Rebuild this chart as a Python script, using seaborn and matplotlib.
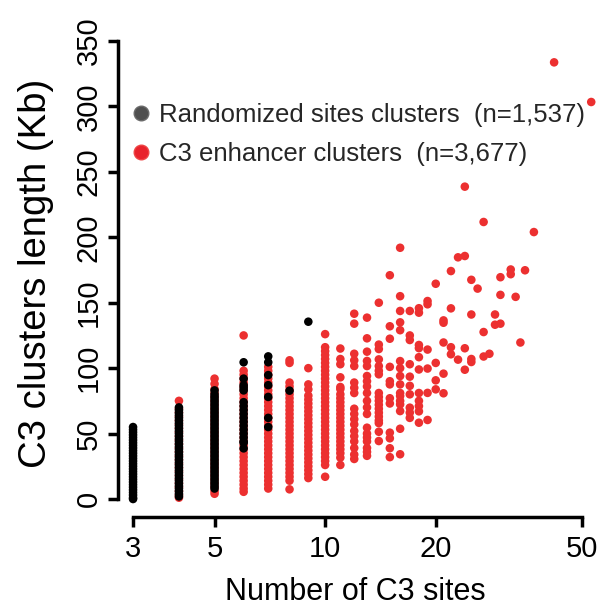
import matplotlib
matplotlib.use("Agg")
import matplotlib.pyplot as plt
import seaborn as sns
import pandas as pd
from matplotlib.lines import Line2D
from matplotlib.ticker import NullLocator

# ---------------- data ----------------
# Randomized sites clusters: number of sites -> cluster lengths (Kb)
rand_3 = [0, 1, 3, 5, 7, 9, 11, 13, 15, 17, 19, 21, 23, 25, 27, 29, 31, 33, 35, 37,
          39, 41, 43, 45, 47, 49, 51, 53, 55]
rand_4 = [2, 4, 6, 8, 10, 12, 14, 16, 18, 20, 22, 24, 26, 28, 30, 32, 34, 36, 38, 40,
          42, 44, 46, 48, 50, 52, 54, 56, 58, 60, 62, 64, 66, 68, 70]
rand_5 = [8, 10, 12, 14, 16, 18, 20, 22, 24, 26, 28, 30, 32, 34, 36, 38, 40, 42, 44, 46,
          48, 50, 52, 54, 56, 58, 60, 62, 64, 66, 68, 70, 72, 74, 76, 78, 80, 83]
rand_6 = [38.7, 43, 44, 47, 50, 53, 56, 59, 62, 65, 68, 71, 74, 83, 85, 87, 92, 104.5]
rand_7 = [55, 62, 78, 87, 94.7, 104.5, 109]
rand_8 = [82.8]
rand_9 = [135.5]

# C3 enhancer clusters: number of sites -> cluster lengths (Kb)
enh_4 = [1, 3, 6, 9, 12, 15, 18, 21, 24, 27, 30, 33, 36, 39, 42, 45, 48, 51, 54, 57,
         60, 63, 66, 69, 75]
enh_5 = [4, 6, 9, 12, 15, 18, 21, 24, 27, 30, 33, 36, 39, 42, 45, 48, 51, 54, 57, 60,
         63, 66, 69, 72, 75, 78, 81, 84, 88, 92]
enh_6 = [5.5, 8, 11, 14, 17, 20, 23, 26, 29, 32, 35, 38, 41, 44, 47, 50, 53, 56, 59,
         62, 65, 68, 71, 74, 77, 80, 83, 86, 89, 92, 95, 98, 125]
enh_7 = [8, 11, 14, 17, 20, 23, 26, 29, 32, 35, 38, 41, 44, 47, 50, 53, 56, 59, 62, 65,
         68, 71, 74, 77, 80, 83, 86, 89, 92, 95, 98, 101]
enh_8 = [7.4, 14, 17, 20, 23, 26, 29, 32, 35, 38, 41, 44, 47, 50, 53, 56, 59, 62, 65,
         68, 71, 74, 77, 80, 83, 86, 89, 104, 106]
enh_9 = [16, 19, 22, 25, 28, 31, 34, 37, 40, 43, 46, 49, 52, 55, 58, 61, 64, 67, 70,
         73, 76, 79, 83.8, 87.6, 100]
enh_10 = [17, 26, 29, 32, 35, 38, 41, 44, 47, 50, 53, 56, 59, 62, 65, 68, 71, 74, 77,
          80, 83, 86, 89, 92, 95, 98, 101, 104, 107, 110, 113, 116, 126]
enh_11 = [26, 31.6, 35, 38, 41, 44, 47, 50, 53, 56, 59, 62, 65, 68, 71, 74, 77, 80, 84,
          85.6, 93, 103, 107, 115]
enh_12 = [30.6, 34, 39, 44, 48, 52, 57, 61, 65, 69, 81, 85, 89, 101.6, 106, 111, 134, 141.6]
enh_13 = [33, 36, 39, 44, 47, 50, 54.5, 65, 70, 75, 81, 86, 90, 94, 101.6, 105.5, 112.6,
          122.8, 138.6]
enh_14 = [44.3, 51.4, 58, 60, 63, 66, 69, 72, 75, 78, 81, 95.3, 98, 101.6, 106.7, 114.6,
          118, 150]
enh_15 = [32, 38.8, 46.4, 50.7, 73, 77, 87.6, 90, 101, 122.5, 132, 171]
enh_16 = [34.2, 53.7, 67.2, 72.3, 75, 78.7, 81, 87.6, 94, 100, 105.4, 129, 135, 143.7,
          155, 192]
enh_17 = [62, 66, 69.8, 80, 86.5, 93.5, 103, 121.5, 125, 143.7]
enh_18 = [58.3, 67, 71, 75, 81, 99, 108.4, 115.3, 117.7, 142.4, 145.8]
enh_19 = [60.4, 81.1, 99.7, 114.2, 148.8, 151.3]
enh_20 = [83.8, 90.7, 104, 164.5]
enh_21 = [80.8, 95.8, 119.6, 134.7, 136.5]
enh_22 = [110.6, 116, 145.7, 174.2]
enh_23 = [106.5, 184.7]
enh_24 = [98.8, 115.2, 185.7, 238.7]
enh_25 = [104.7, 107, 141, 167.5]
enh_26 = [160.8]
enh_27 = [108.9, 127.6, 211.7]
enh_28 = [111]
enh_29 = [133.2, 141]
enh_30 = [134, 156, 169.5]
enh_32 = [171.8, 175.4]
enh_33 = [154.5]
enh_34 = [119.6]
enh_35 = [174.8]
enh_37 = [204]
enh_42 = [333.7]
enh_53 = [303.4]

rand_columns = [(3, rand_3), (4, rand_4), (5, rand_5), (6, rand_6), (7, rand_7),
                (8, rand_8), (9, rand_9)]
enh_columns = [(4, enh_4), (5, enh_5), (6, enh_6), (7, enh_7), (8, enh_8), (9, enh_9),
               (10, enh_10), (11, enh_11), (12, enh_12), (13, enh_13), (14, enh_14),
               (15, enh_15), (16, enh_16), (17, enh_17), (18, enh_18), (19, enh_19),
               (20, enh_20), (21, enh_21), (22, enh_22), (23, enh_23), (24, enh_24),
               (25, enh_25), (26, enh_26), (27, enh_27), (28, enh_28), (29, enh_29),
               (30, enh_30), (32, enh_32), (33, enh_33), (34, enh_34), (35, enh_35),
               (37, enh_37), (42, enh_42), (53, enh_53)]

label_rand = "Randomized sites clusters  (n=1,537)"
label_enh = "C3 enhancer clusters  (n=3,677)"
x_ticks = [3, 5, 10, 20, 50]
y_ticks = [0, 50, 100, 150, 200, 250, 300, 350]

# ---------------- build table ----------------
rows = []
for site, vals in enh_columns:
    rows += [(site, v, "enh") for v in vals]
for site, vals in rand_columns:
    rows += [(site, v, "rand") for v in vals]
df = pd.DataFrame(rows, columns=["sites", "length", "group"])

RED = "#EC3030"
BLACK = "#000000"
TICK_FS = 21

sns.set_theme(style="white")
plt.rcParams["font.family"] = ["Liberation Sans", "DejaVu Sans"]
plt.rcParams["xtick.labelsize"] = TICK_FS
plt.rcParams["ytick.labelsize"] = TICK_FS

fig = plt.figure(figsize=(6.01, 6.07), dpi=100)
ax = fig.add_axes([118 / 601, 90 / 607, 480 / 601, 482 / 607])

sns.scatterplot(data=df, x="sites", y="length", hue="group",
                palette={"enh": RED, "rand": BLACK}, s=38, linewidth=0,
                legend=False, ax=ax, clip_on=False)

ax.set_xscale("log")
ax.set_xlim(2.73, 55.3)
ax.set_ylim(-13.75, 354.6)

for side in ["top", "right"]:
    ax.spines[side].set_visible(False)
for side in ["left", "bottom"]:
    ax.spines[side].set_color("black")
    ax.spines[side].set_linewidth(2.5)
ax.spines["left"].set_bounds(0, 350)
ax.spines["bottom"].set_bounds(3, 50)

ax.set_xticks(x_ticks)
ax.set_xticklabels([str(t) for t in x_ticks], fontsize=TICK_FS)
ax.xaxis.set_minor_locator(NullLocator())
ax.set_yticks(y_ticks)
ax.set_yticklabels([str(t) for t in y_ticks], fontsize=TICK_FS, rotation=90,
                   va="center")
ax.tick_params(axis="both", which="major", direction="out", length=7, width=2.5,
               colors="black", bottom=True, left=True)
ax.tick_params(axis="x", pad=6)
ax.tick_params(axis="y", pad=4)

ax.set_xlabel("Number of C3 sites", fontsize=22, color="black")
ax.xaxis.set_label_coords(0.494, -0.124)
ax.set_ylabel("C3 clusters length (Kb)", fontsize=27.5, color="black")
ax.yaxis.set_label_coords(-0.133, 0.506)

handles = [Line2D([], [], marker="o", linestyle="", markersize=10.5,
                  markerfacecolor="#4F4F4F", markeredgecolor="#6A6A6A"),
           Line2D([], [], marker="o", linestyle="", markersize=10.5,
                  markerfacecolor="#E8222B", markeredgecolor="#EE4444")]
ax.legend(handles, [label_rand, label_enh], loc="upper left",
          bbox_to_anchor=(0.027, 0.858), frameon=False, fontsize=18.5,
          handlelength=0.8, handletextpad=0.3, labelspacing=0.55,
          borderpad=0, borderaxespad=0)

fig.savefig("out.png", dpi=100)
